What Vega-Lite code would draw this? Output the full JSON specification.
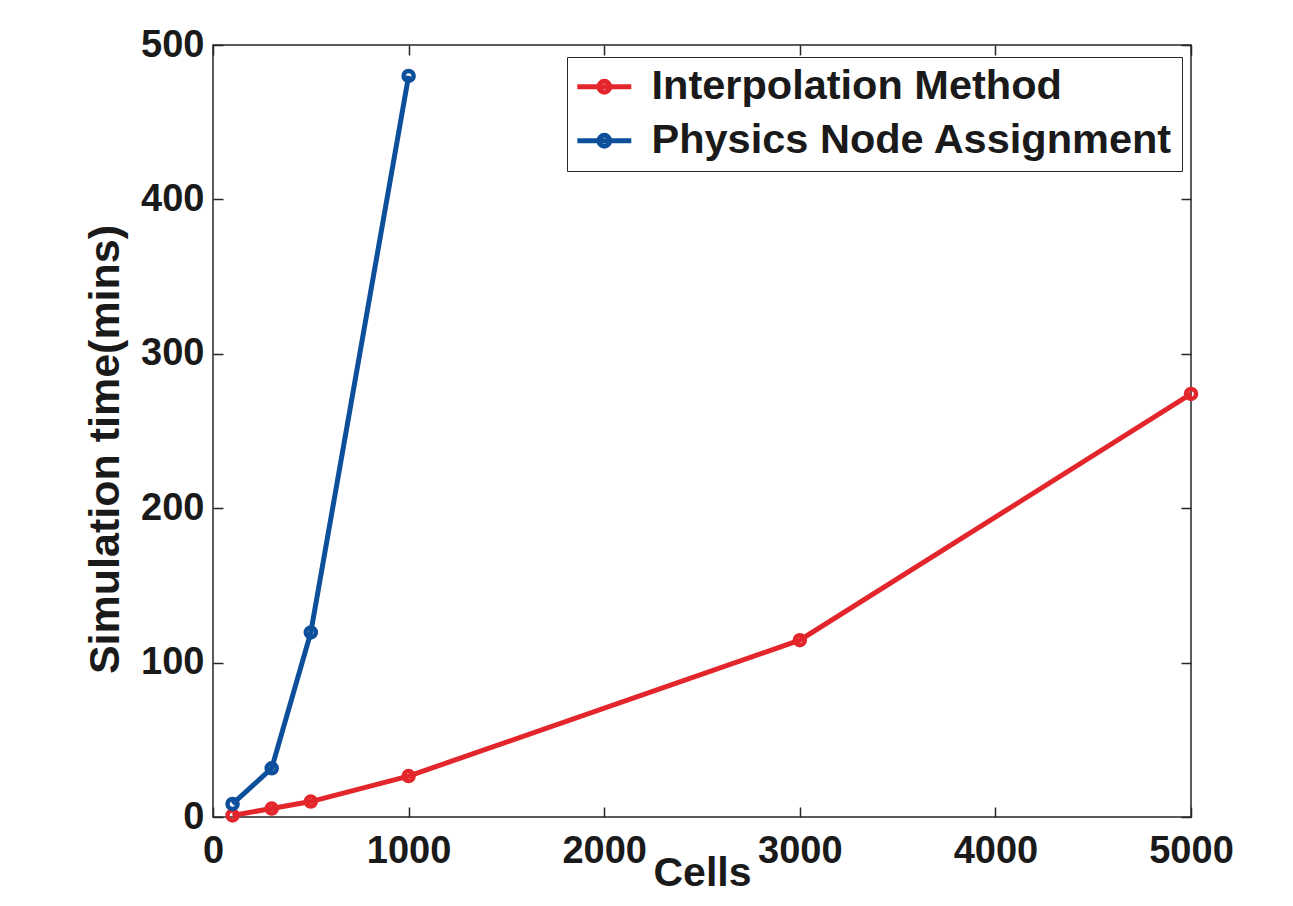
{
  "$schema": "https://vega.github.io/schema/vega-lite/v6.json",
  "width": 978,
  "height": 772,
  "autosize": "none",
  "padding": {"left": 213, "top": 45, "right": 102, "bottom": 89},
  "background": "white",
  "config": {
    "font": "Liberation Sans",
    "view": {"stroke": "#262626", "strokeWidth": 1.5},
    "axis": {
      "domain": false,
      "grid": false,
      "tickColor": "#262626",
      "tickWidth": 1.5,
      "tickSize": -10,
      "labelFont": "Liberation Sans",
      "labelFontSize": 38,
      "labelFontWeight": "bold",
      "labelColor": "#1a1a1a",
      "titleFont": "Liberation Sans",
      "titleFontSize": 41,
      "titleFontWeight": "bold",
      "titleColor": "#1a1a1a"
    }
  },
  "data": {
    "values": [
      {"method": "Interpolation Method", "cells": 100, "time": 1},
      {"method": "Interpolation Method", "cells": 300, "time": 5.5},
      {"method": "Interpolation Method", "cells": 500, "time": 10},
      {"method": "Interpolation Method", "cells": 1000, "time": 26.5},
      {"method": "Interpolation Method", "cells": 3000, "time": 114.5},
      {"method": "Interpolation Method", "cells": 5000, "time": 274},
      {"method": "Physics Node Assignment", "cells": 100, "time": 8.5},
      {"method": "Physics Node Assignment", "cells": 300, "time": 31.5},
      {"method": "Physics Node Assignment", "cells": 500, "time": 119.5},
      {"method": "Physics Node Assignment", "cells": 1000, "time": 480}
    ]
  },
  "layer": [
    {
      "mark": {
        "type": "line",
        "strokeWidth": 5,
        "point": {"filled": false, "size": 100, "strokeWidth": 4.5, "shape": "circle"}
      },
      "encoding": {
        "x": {
          "field": "cells",
          "type": "quantitative",
          "scale": {"domain": [0, 5000], "nice": false},
          "axis": {"title": "Cells", "format": "d", "values": [0, 1000, 2000, 3000, 4000, 5000], "labelPadding": 25, "titlePadding": -17, "labelFlush": false}
        },
        "y": {
          "field": "time",
          "type": "quantitative",
          "scale": {"domain": [0, 500], "nice": false},
          "axis": {"title": "Simulation time(mins)", "values": [0, 100, 200, 300, 400, 500], "labelPadding": 19, "titlePadding": 13, "titleFontSize": 43, "titleY": 404}
        },
        "color": {
          "field": "method",
          "type": "nominal",
          "scale": {
            "domain": ["Interpolation Method", "Physics Node Assignment"],
            "range": ["#e3262b", "#0d4f9b"]
          },
          "legend": {
            "title": null,
            "orient": "none",
            "legendX": 354,
            "legendY": 12,
            "strokeColor": "#262626",
            "fillColor": "white",
            "padding": 9,
            "labelFont": "Liberation Sans",
            "labelFontSize": 41.5,
            "labelFontWeight": "bold",
            "labelColor": "#1a1a1a",
            "labelLimit": 0,
            "labelOffset": 34,
            "rowPadding": 11,
            "symbolType": "M-1.44,0L2.56,0M0.96,0A0.4,0.4 0 1,1 0.16,0A0.4,0.4 0 1,1 0.96,0",
            "symbolSize": 729,
            "symbolStrokeWidth": 5,
            "symbolFillColor": "transparent"
          }
        }
      }
    },
    {
      "mark": {"type": "point", "opacity": 0},
      "encoding": {
        "x": {
          "field": "cells",
          "type": "quantitative",
          "scale": {"domain": [0, 5000], "nice": false},
          "axis": {"orient": "top", "title": null, "labels": false, "values": [0, 1000, 2000, 3000, 4000, 5000]}
        },
        "y": {
          "field": "time",
          "type": "quantitative",
          "scale": {"domain": [0, 500], "nice": false},
          "axis": {"orient": "right", "title": null, "labels": false, "values": [0, 100, 200, 300, 400, 500]}
        }
      }
    }
  ],
  "resolve": {"scale": {"x": "independent", "y": "independent"}, "axis": {"x": "independent", "y": "independent"}}
}
